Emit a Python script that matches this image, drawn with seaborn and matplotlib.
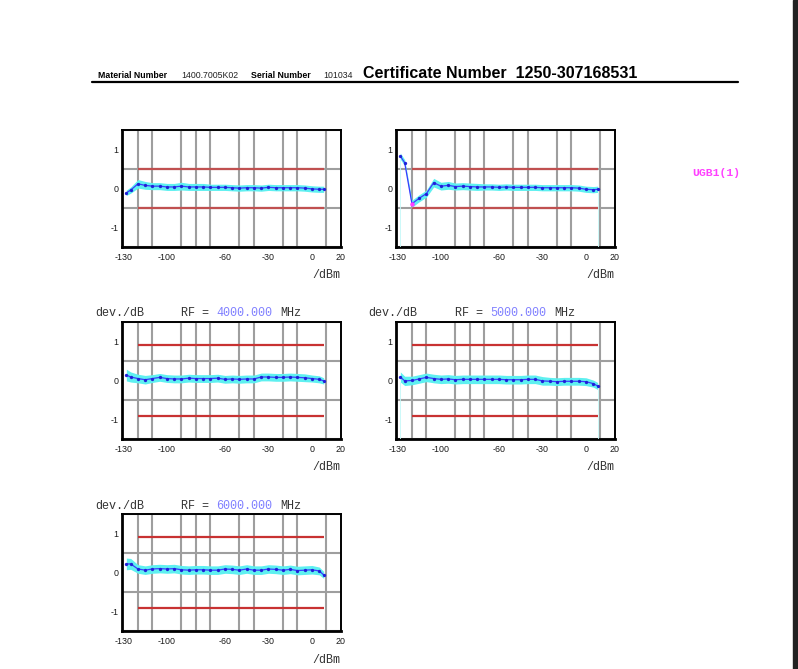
import numpy as np
import matplotlib.pyplot as plt
import seaborn as sns
from matplotlib.patches import Rectangle

# niveaux mesures (dBm)
levels = [-128, -125, -120, -115, -110, -105, -100, -95, -90, -85, -80, -75, -70,
          -65, -60, -55, -50, -45, -40, -35, -30, -25, -20, -15, -10, -5, 0, 5, 8]

dev_a = [-0.11, -0.04, 0.12, 0.08, 0.06, 0.06, 0.04, 0.04, 0.06, 0.04, 0.04, 0.04, 0.03,
         0.03, 0.03, 0.02, 0.01, 0.02, 0.02, 0.01, 0.03, 0.02, 0.02, 0.02, 0.02, 0.01,
         -0.01, -0.02, -0.02]
dev_b = [0.83, 0.66, -0.39, -0.25, -0.13, 0.15, 0.06, 0.08, 0.05, 0.06, 0.05, 0.04, 0.04,
         0.04, 0.03, 0.04, 0.03, 0.03, 0.03, 0.03, 0.02, 0.02, 0.02, 0.02, 0.02, 0.01,
         -0.02, -0.03, -0.02]
dev_4000 = [0.14, 0.09, 0.05, 0.02, 0.05, 0.08, 0.05, 0.04, 0.04, 0.06, 0.05, 0.05, 0.05,
            0.06, 0.03, 0.04, 0.03, 0.04, 0.04, 0.09, 0.09, 0.08, 0.08, 0.09, 0.08, 0.07,
            0.05, 0.03, -0.01]
dev_5000 = [0.09, -0.01, 0.0, 0.04, 0.08, 0.05, 0.03, 0.04, 0.02, 0.03, 0.03, 0.03, 0.03,
            0.03, 0.03, 0.02, 0.02, 0.02, 0.03, 0.03, -0.01, -0.02, -0.03, -0.02, -0.02,
            -0.02, -0.03, -0.08, -0.14]
dev_6000 = [0.22, 0.22, 0.09, 0.06, 0.09, 0.10, 0.09, 0.10, 0.07, 0.06, 0.07, 0.07, 0.06,
            0.06, 0.09, 0.08, 0.06, 0.09, 0.06, 0.06, 0.09, 0.08, 0.06, 0.08, 0.05, 0.06,
            0.07, 0.04, -0.06]

# incertitudes (demi-largeur de la bande cyan)
unc_a = [0.07, 0.08, 0.11, 0.10, 0.09, 0.09, 0.09, 0.09, 0.10, 0.09, 0.09, 0.09, 0.08,
         0.08, 0.08, 0.08, 0.08, 0.08, 0.08, 0.08, 0.08, 0.08, 0.08, 0.08, 0.08, 0.08,
         0.08, 0.08, 0.08]
unc_b = [0.08, 0.08, 0.09, 0.09, 0.09, 0.11, 0.10, 0.10, 0.09, 0.09, 0.09, 0.09, 0.08,
         0.08, 0.08, 0.08, 0.08, 0.08, 0.08, 0.08, 0.08, 0.08, 0.08, 0.08, 0.08, 0.08,
         0.08, 0.08, 0.08]
unc_4000 = [0.15, 0.13, 0.11, 0.11, 0.10, 0.10, 0.10, 0.10, 0.10, 0.10, 0.10, 0.10, 0.10,
            0.10, 0.10, 0.10, 0.10, 0.10, 0.10, 0.10, 0.10, 0.10, 0.10, 0.10, 0.10, 0.10,
            0.09, 0.09, 0.08]
unc_5000 = [0.13, 0.12, 0.11, 0.11, 0.11, 0.11, 0.11, 0.11, 0.11, 0.11, 0.11, 0.11, 0.11,
            0.11, 0.11, 0.11, 0.11, 0.11, 0.11, 0.11, 0.11, 0.10, 0.10, 0.10, 0.10, 0.10,
            0.10, 0.09, 0.09]
unc_6000 = [0.15, 0.14, 0.11, 0.11, 0.11, 0.11, 0.11, 0.11, 0.11, 0.11, 0.11, 0.11, 0.11,
            0.11, 0.11, 0.11, 0.11, 0.11, 0.11, 0.11, 0.11, 0.11, 0.11, 0.11, 0.11, 0.11,
            0.11, 0.10, 0.09]

# points marques en magenta
flag_b = [2]

limit_top = 0.5
limit_rf = 0.9
limit_start = -120
limit_end = 8

xtick_vals = [-130, -100, -60, -30, 0, 20]
ytick_vals = [-1, 0, 1]

W, H = 798, 669
sns.set_style("white")
plt.rcParams['font.family'] = ['Liberation Sans', 'DejaVu Sans']

fig = plt.figure(figsize=(W / 100, H / 100), dpi=100)
fig.patch.set_facecolor('white')


def fx(px):
    return px / W


def fy(py):
    return 1 - py / H


def make_panel(left, top, dev, unc, limit, flags=(), edge_lines=False, red='#c83232'):
    ax = fig.add_axes([fx(left), fy(top + 117), fx(219), 117 / H])
    x = np.array(levels)
    d = np.array(dev)
    u = np.array(unc)
    ax.set_xlim(-131, 20)
    ax.set_ylim(-1.5, 1.5)
    ax.set_xticks(xtick_vals)
    ax.set_xticklabels([str(v) for v in xtick_vals])
    ax.set_yticks(ytick_vals)
    ax.set_yticklabels([str(v) for v in ytick_vals])
    ax.set_xticks(np.arange(-120, 20, 10), minor=True)
    ax.set_yticks(np.arange(-1.5, 1.6, 0.5), minor=True)
    ax.grid(False, which='major')
    ax.grid(True, which='minor', color='#9e9e9e', lw=1.5)
    ax.tick_params(which='minor', length=0)
    ax.tick_params(axis='x', which='major', length=2, width=1, color='#222222',
                   labelsize=6.4, labelcolor='#1a1a1a', pad=2.5)
    ax.tick_params(axis='y', which='major', length=1.5, width=1, color='#222222',
                   labelsize=6.4, labelcolor='#1a1a1a', pad=0.8)
    for s in ax.spines.values():
        s.set_color('black')
        s.set_linewidth(1.4)
    ax.spines['left'].set_linewidth(2)
    ax.spines['bottom'].set_linewidth(2)

    # limites de tolerance
    ax.hlines([limit, -limit], limit_start, limit_end, color=red, lw=1.6, zorder=3)
    # bande d'incertitude
    ax.fill_between(x, d - u, d + u, color='#5ef0f0', lw=0, zorder=4)
    if edge_lines:
        ax.vlines([x[0], x[-1]], -1.5, [d[0] - u[0], d[-1] - u[-1]],
                  color='#c4f8f8', lw=0.6, zorder=4)
    sns.lineplot(x=x, y=d, ax=ax, color='#3a3aff', lw=0.9, marker='o',
                 markersize=2.4, markeredgewidth=0, markerfacecolor='#2020d8', zorder=5)
    if len(flags):
        sns.scatterplot(x=x[list(flags)], y=d[list(flags)], ax=ax, color='#ff40ff',
                        s=10, linewidth=0, zorder=6)
    ax.set_xlabel('')
    ax.set_ylabel('')
    return ax


mono = ['Liberation Mono', 'DejaVu Sans Mono']


def rf_title(left_dev, left_rf, y, freq):
    fig.text(fx(left_dev), fy(y), 'dev./dB', family=mono, fontsize=8.5,
             color='#333333', va='center')
    cw = 7.1
    fig.text(fx(left_rf), fy(y), 'RF = ', family=mono, fontsize=8.5,
             color='#333333', va='center')
    fig.text(fx(left_rf + 5 * cw), fy(y), freq, family=mono, fontsize=8.5,
             color='#8080ff', va='center')
    fig.text(fx(left_rf + 14 * cw), fy(y), 'MHz', family=mono, fontsize=8.5,
             color='#333333', va='center')


def unit_label(right, y):
    fig.text(fx(right), fy(y), '/dBm', family=mono, fontsize=8.5,
             color='#333333', va='center', ha='right')


make_panel(122, 130, dev_a, unc_a, limit_top, red='#c05050')
make_panel(396, 130, dev_b, unc_b, limit_top, flags=flag_b, edge_lines=True, red='#c05050')
make_panel(122, 322, dev_4000, unc_4000, limit_rf)
make_panel(396, 322, dev_5000, unc_5000, limit_rf, edge_lines=True)
make_panel(122, 514, dev_6000, unc_6000, limit_rf)

rf_title(95, 181, 313, '4000.000')
rf_title(368, 455, 313, '5000.000')
rf_title(95, 181, 506, '6000.000')

unit_label(340, 275)
unit_label(614, 275)
unit_label(340, 467)
unit_label(614, 467)
unit_label(340, 660)

# en-tete du certificat
fig.text(fx(98), fy(78), 'Material Number', fontsize=6.3, weight='bold', color='black')
fig.text(fx(181), fy(78), '1400.7005K02', fontsize=6.3, color='#222222')
fig.text(fx(251), fy(78), 'Serial Number', fontsize=6.3, weight='bold', color='black')
fig.text(fx(323), fy(78), '101034', fontsize=6.3, color='#222222')
fig.text(fx(363), fy(78), 'Certificate Number  1250-307168531', fontsize=11.5,
         weight='bold', color='black')
fig.add_artist(plt.Line2D([fx(92), fx(738)], [fy(82), fy(82)], color='black', lw=1.6))

fig.text(fx(692), fy(173), 'UGB1(1)', family=mono, fontsize=8.2, weight='bold',
         color='#ff40ff', va='center')

# bord sombre a droite (visionneuse)
fig.patches.append(Rectangle((fx(793), 0), fx(5), 1, transform=fig.transFigure,
                             color='#222222', zorder=10))

fig.savefig('out.png', dpi=100)
